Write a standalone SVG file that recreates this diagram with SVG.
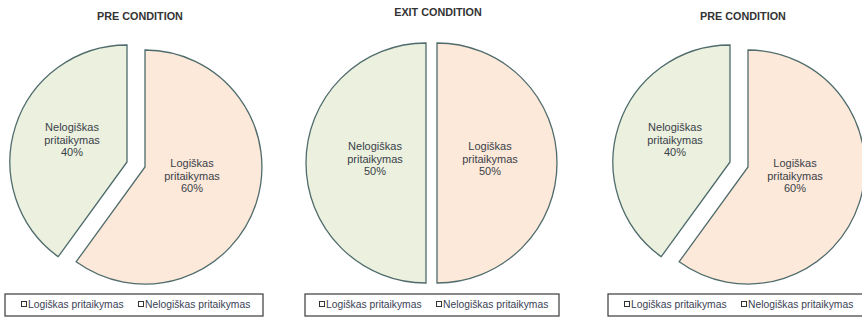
<svg xmlns="http://www.w3.org/2000/svg" width="862" height="321" viewBox="0 0 862 321">
<style>
.title{font-family:"Liberation Sans",Arial,sans-serif;font-weight:bold;font-size:10.8px;fill:#333;text-anchor:middle}
.lbl{font-family:"Liberation Sans",Arial,sans-serif;font-size:11px;fill:#3a3f4a;text-anchor:middle}
.leg{font-family:"Liberation Sans",Arial,sans-serif;font-size:10.3px;fill:#3a3f55}
.g{fill:#ebf1de;stroke:#4f6b6c;stroke-width:1.3}
.o{fill:#fde9d9;stroke:#4f6b6c;stroke-width:1.3}
.box{fill:#fff;stroke:#3a3a3a;stroke-width:1.2}
.sq{fill:#fff;stroke:#333;stroke-width:1}
</style>
<rect width="862" height="321" fill="#fff"/>
<g id="chart1">
<text class="title" x="140" y="20">PRE CONDITION</text>
<path class="g" d="M127,162 L58.2,256.7 A117,117 0 0,1 127,45 Z"/>
<path class="o" d="M145,167 L145,50 A117,117 0 1,1 76.2,261.7 Z"/>
<text class="lbl" x="72" y="131">Nelogiškas<tspan x="72" dy="12.7">pritaikymas</tspan><tspan x="72" dy="12.7">40%</tspan></text>
<text class="lbl" x="192" y="167">Logiškas<tspan x="192" dy="12.7">pritaikymas</tspan><tspan x="192" dy="12.7">60%</tspan></text>
<rect class="box" x="5" y="294" width="258" height="22"/>
<rect class="sq" x="21.5" y="301.5" width="5" height="5"/>
<text class="leg" x="28" y="308">Logiškas pritaikymas</text>
<rect class="sq" x="138.5" y="301.5" width="5" height="5"/>
<text class="leg" x="145" y="308">Nelogiškas pritaikymas</text>
</g>
<g id="chart2">
<text class="title" x="438" y="16">EXIT CONDITION</text>
<path class="g" d="M426,163 L426,283 A120,120 0 0,1 426,43 Z"/>
<path class="o" d="M437,163 L437,43 A120,120 0 0,1 437,283 Z"/>
<text class="lbl" x="375" y="150">Nelogiškas<tspan x="375" dy="12.7">pritaikymas</tspan><tspan x="375" dy="12.7">50%</tspan></text>
<text class="lbl" x="490" y="150">Logiškas<tspan x="490" dy="12.7">pritaikymas</tspan><tspan x="490" dy="12.7">50%</tspan></text>
<rect class="box" x="305" y="294" width="254" height="22"/>
<rect class="sq" x="319.5" y="301.5" width="5" height="5"/>
<text class="leg" x="326" y="308">Logiškas pritaikymas</text>
<rect class="sq" x="436.5" y="301.5" width="5" height="5"/>
<text class="leg" x="443" y="308">Nelogiškas pritaikymas</text>
</g>
<g id="chart3">
<text class="title" x="743" y="20">PRE CONDITION</text>
<path class="g" d="M730,162 L661.2,256.7 A117,117 0 0,1 730,45 Z"/>
<path class="o" d="M748,167 L748,50 A117,117 0 1,1 679.2,261.7 Z"/>
<text class="lbl" x="675" y="131">Nelogiškas<tspan x="675" dy="12.7">pritaikymas</tspan><tspan x="675" dy="12.7">40%</tspan></text>
<text class="lbl" x="795" y="167">Logiškas<tspan x="795" dy="12.7">pritaikymas</tspan><tspan x="795" dy="12.7">60%</tspan></text>
<rect class="box" x="608" y="294" width="258" height="22"/>
<rect class="sq" x="624.5" y="301.5" width="5" height="5"/>
<text class="leg" x="631" y="308">Logiškas pritaikymas</text>
<rect class="sq" x="741.5" y="301.5" width="5" height="5"/>
<text class="leg" x="748" y="308">Nelogiškas pritaikymas</text>
</g>
</svg>
